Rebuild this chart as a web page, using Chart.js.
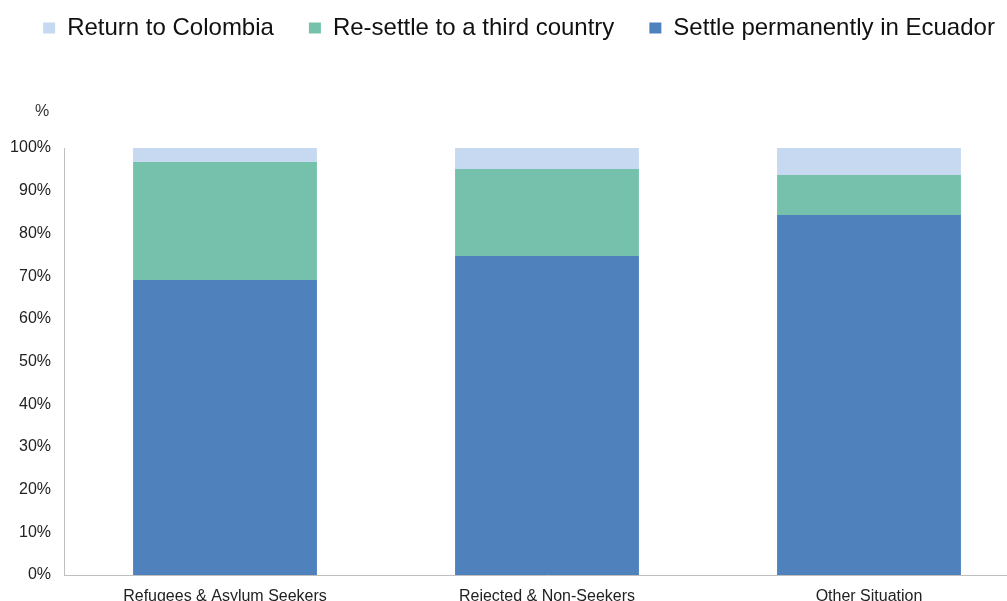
<!DOCTYPE html>
<html>
<head>
<meta charset="utf-8">
<script src="https://cdn.jsdelivr.net/npm/chart.js@4"></script>
<style>
  html, body { margin: 0; padding: 0; background: #fff; overflow: hidden; }
  #wrap { width: 1007px; height: 601px; overflow: hidden; position: relative; }
  #box { width: 1030px; height: 612px; position: absolute; left: 0; top: 0; }
</style>
</head>
<body>
<div id="wrap"><div id="box"><canvas id="chart"></canvas></div></div>
<script>
const categories = ['Refugees & Asylum Seekers', 'Rejected & Non-Seekers', 'Other Situation'];
const settleEcuador = [69.1, 74.7, 84.3];
const resettleThird = [27.6, 20.4, 9.4];
const returnColombia = [3.3, 4.9, 6.3];
const yTicks = [0, 10, 20, 30, 40, 50, 60, 70, 80, 90, 100];

const FONT = 'Liberation Sans, Arial, sans-serif';

// "%" label above the y axis
const unitLabel = {
    id: 'unitLabel',
    afterDraw(chart) {
        const c = chart.ctx;
        c.save();
        c.fillStyle = '#333';
        c.font = '16px ' + FONT;
        c.textAlign = 'center';
        c.textBaseline = 'middle';
        c.fillText('%', 42, 112);
        c.restore();
    }
};

// fix legend height so the plot starts at the right place, nudge it right a bit
const legendTweak = {
    id: 'legendTweak',
    beforeInit(chart) {
        const orig = chart.legend.fit;
        chart.legend.fit = function () {
            orig.bind(chart.legend)();
            this.height = 167;
        };
    },
    afterLayout(chart) {
        chart.legend.left += 4;
        chart.legend.right += 4;
    }
};

const ctx = document.getElementById('chart');
new Chart(ctx, {
    type: 'bar',
    data: {
        labels: categories,
        datasets: [
            { label: 'Settle permanently in Ecuador', data: settleEcuador, backgroundColor: '#4F81BD' },
            { label: 'Re-settle to a third country', data: resettleThird, backgroundColor: '#76C1AB' },
            { label: 'Return to Colombia', data: returnColombia, backgroundColor: '#C6D9F1' }
        ]
    },
    options: {
        responsive: true,
        maintainAspectRatio: false,
        animation: false,
        layout: { padding: { top: -19, left: 0, right: 0, bottom: 0 } },
        datasets: { bar: { categoryPercentage: 1, barPercentage: 0.571 } },
        plugins: {
            legend: {
                display: true,
                position: 'top',
                reverse: true,
                labels: {
                    boxWidth: 12,
                    boxHeight: 11,
                    padding: 35,
                    color: '#111',
                    font: { family: FONT, size: 24 }
                }
            },
            tooltip: { enabled: false }
        },
        scales: {
            x: {
                stacked: true,
                grid: { display: false },
                border: { display: true, color: '#bfbfbf', width: 1 },
                ticks: { color: '#222', padding: 4, font: { family: FONT, size: 16 }, maxRotation: 0 },
                afterFit: s => { s.height = 37; }
            },
            y: {
                stacked: true,
                min: 0,
                max: 100,
                grid: { display: false, drawTicks: false },
                border: { display: true, color: '#bfbfbf', width: 1 },
                afterBuildTicks: s => { s.ticks = yTicks.map(v => ({ value: v })); },
                ticks: {
                    color: '#222',
                    padding: 13,
                    font: { family: FONT, size: 16 },
                    callback: v => v + '%'
                },
                afterFit: s => { s.width = 64; }
            }
        }
    },
    plugins: [legendTweak, unitLabel]
});
</script>
</body>
</html>
